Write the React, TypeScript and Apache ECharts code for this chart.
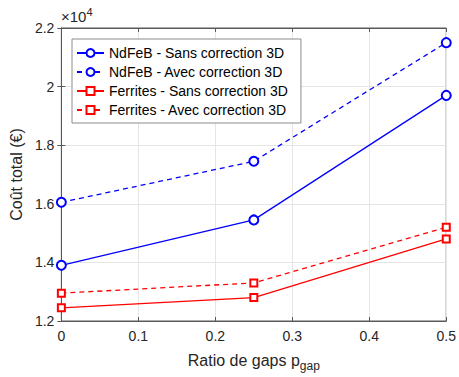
import React, { useEffect, useRef } from "react";
import * as echarts from "echarts";

const ratios = [0, 0.25, 0.5];
const ndfebSans = [13900, 15450, 19700];
const ndfebAvec = [16050, 17450, 21500];
const ferritesSans = [12450, 12800, 14800];
const ferritesAvec = [12950, 13300, 15200];
const seriesNames = [
  "NdFeB - Sans correction 3D",
  "NdFeB - Avec correction 3D",
  "Ferrites - Sans correction 3D",
  "Ferrites - Avec correction 3D",
];

const FONT = "Liberation Sans, Arial, sans-serif";
const AX = "#595959";
const TXT = "#262626";

export default function App() {
  const ref = useRef<HTMLDivElement>(null);
  useEffect(() => {
    if (!ref.current) return;
    const chart = echarts.init(ref.current, undefined, { renderer: "svg" });
    const pair = (ys: number[]) => ratios.map((x, i) => [x, ys[i]]);
    const mk = (name: string, ys: number[], color: string, dashed: boolean, symbol: string, size: number) => ({
      name,
      type: "line",
      data: pair(ys),
      symbol,
      symbolSize: size,
      showSymbol: true,
      lineStyle: { color, width: 1.3, type: dashed ? [5, 4] : "solid" },
      itemStyle: { color, borderColor: color, borderWidth: 1.2 },
      z: 5,
    });
    chart.setOption({
      animation: false,
      textStyle: { fontFamily: FONT },
      grid: { left: 60, right: 10, top: 28, bottom: 55, show: true, borderColor: AX, borderWidth: 1, backgroundColor: "#fff" },
      legend: {
        orient: "vertical",
        left: 72,
        top: 39,
        data: seriesNames,
        itemWidth: 27,
        itemHeight: 10,
        itemGap: 5,
        padding: [7, 13, 6, 4],
        borderColor: "#8c8c8c",
        borderWidth: 1,
        backgroundColor: "#fff",
        textStyle: { fontSize: 14, color: "#000", fontFamily: FONT, lineHeight: 14 },
      },
      xAxis: [
        {
          type: "value",
          min: 0,
          max: 0.5,
          interval: 0.1,
          name: "{a|Ratio de gaps p}{s|gap}",
          nameLocation: "middle",
          nameGap: 27,
          nameTextStyle: {
            verticalAlign: "top",
            rich: {
              a: { fontSize: 16, color: TXT, fontFamily: FONT },
              s: { fontSize: 12, color: TXT, fontFamily: FONT, padding: [12, 0, 0, 0] },
            },
          },
          axisLine: { show: true, lineStyle: { color: AX } },
          axisTick: { show: true, inside: true, length: 4, lineStyle: { color: AX } },
          axisLabel: { fontSize: 14, color: TXT, margin: 8, formatter: (v: number) => String(Math.round(v * 10) / 10) },
          splitLine: { show: true, lineStyle: { color: "#e5e5e5" } },
        },
        {
          type: "value",
          position: "top",
          min: 0,
          max: 0.5,
          interval: 0.1,
          axisLine: { show: true, lineStyle: { color: AX } },
          axisTick: { show: true, inside: true, length: 4, lineStyle: { color: AX } },
          axisLabel: { show: false },
          splitLine: { show: false },
        },
      ],
      yAxis: [
        {
          type: "value",
          min: 12000,
          max: 22000,
          interval: 2000,
          name: "Coût total (€)",
          nameLocation: "middle",
          nameGap: 22,
          nameTextStyle: { fontSize: 16, color: TXT, fontFamily: FONT },
          axisLine: { show: true, lineStyle: { color: AX } },
          axisTick: { show: true, inside: true, length: 4, lineStyle: { color: AX } },
          axisLabel: { fontSize: 14, color: TXT, margin: 7, formatter: (v: number) => String(Math.round(v / 1000) / 10) },
          splitLine: { show: true, lineStyle: { color: "#e5e5e5" } },
        },
        {
          type: "value",
          position: "right",
          min: 12000,
          max: 22000,
          interval: 2000,
          axisLine: { show: true, lineStyle: { color: AX } },
          axisTick: { show: true, inside: true, length: 4, lineStyle: { color: AX } },
          axisLabel: { show: false },
          splitLine: { show: false },
        },
      ],
      graphic: [
        {
          type: "text",
          left: 61,
          top: 6,
          style: {
            text: "{a|×10}{b|4}",
            rich: {
              a: { fontSize: 15, fill: TXT, fontFamily: FONT },
              b: { fontSize: 11, fill: TXT, fontFamily: FONT, padding: [0, 0, 9, 0] },
            },
          },
        },
      ],
      series: [
        mk(seriesNames[0], ndfebSans, "#0000ff", false, "emptyCircle", 9),
        mk(seriesNames[1], ndfebAvec, "#0000ff", true, "emptyCircle", 9),
        mk(seriesNames[2], ferritesSans, "#ff0000", false, "emptyRect", 7),
        mk(seriesNames[3], ferritesAvec, "#ff0000", true, "emptyRect", 7),
      ],
    });
    return () => chart.dispose();
  }, []);
  return <div ref={ref} style={{ width: 459, height: 377, position: "absolute", left: 0, top: 0 }} />;
}
